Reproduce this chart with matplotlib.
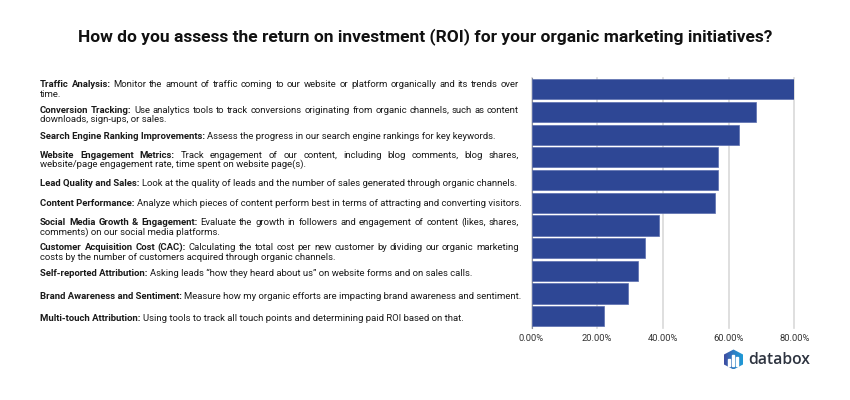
import matplotlib
matplotlib.use('Agg')
import matplotlib.pyplot as plt
from matplotlib.patches import Polygon, Rectangle
from matplotlib.colors import LinearSegmentedColormap
from matplotlib.font_manager import FontProperties
import numpy as np

title = 'How do you assess the return on investment (ROI) for your organic marketing initiatives?'

# bold lead, first line rest, second line (or None)
leads = ['Traffic Analysis:', 'Conversion Tracking:', 'Search Engine Ranking Improvements:',
         'Website Engagement Metrics:', 'Lead Quality and Sales:', 'Content Performance:',
         'Social Media Growth & Engagement:', 'Customer Acquisition Cost (CAC):',
         'Self-reported Attribution:', 'Brand Awareness and Sentiment:', 'Multi-touch Attribution:']
first_lines = ['Monitor the amount of traffic coming to our website or platform organically and its trends over',
               'Use analytics tools to track conversions originating from organic channels, such as content',
               'Assess the progress in our search engine rankings for key keywords.',
               'Track engagement of our content, including blog comments, blog shares,',
               'Look at the quality of leads and the number of sales generated through organic channels.',
               'Analyze which pieces of content perform best in terms of attracting and converting visitors.',
               'Evaluate the growth in followers and engagement of content (likes, shares,',
               'Calculating the total cost per new customer by dividing our organic marketing',
               'Asking leads \u201chow they heard about us\u201d on website forms and on sales calls.',
               'Measure how my organic efforts are impacting brand awareness and sentiment.',
               'Using tools to track all touch points and determining paid ROI based on that.']
second_lines = ['time.', 'downloads, sign-ups, or sales.', None,
                'website/page engagement rate, time spent on website page(s).', None, None,
                'comments) on our social media platforms.',
                'costs by the number of customers acquired through organic channels.',
                None, None, None]
values = [80.0, 68.3, 63.1, 56.7, 56.7, 55.8, 38.8, 34.6, 32.5, 29.4, 22.0]
x_ticks = [0, 20, 40, 60, 80]

W, H = 850, 400
FONT = 'Roboto'
LABEL_SIZE = 6.8
# baselines in whole pixels
line_y = [(87, 97), (113, 122), (139, None), (158, 167), (186, None), (206, None),
          (225, 235), (250, 260), (276, None), (299, None), (321, None)]
TEXT_L, TEXT_R = 40, 519

fig = plt.figure(figsize=(8.5, 4), dpi=100, facecolor='white')
ax = fig.add_axes([531.5 / W, 1 - 327.5 / H, 263 / W, 249.5 / H])
pos = np.arange(len(values))
ax.barh(pos, values, height=0.89, color='#2e4795', edgecolor='#5a6eae', linewidth=0.5, zorder=3)
ax.set_xlim(0, 80)
ax.set_ylim(len(values) - 0.5, -0.5)
ax.set_yticks([])
ax.set_xticks(x_ticks)
ax.set_xticklabels([f'{t:.2f}%' for t in x_ticks], fontsize=6.75, family=FONT, color='#333333')
ax.tick_params(axis='x', length=0, pad=5)
ax.grid(axis='x', color='#d9d9d9', linewidth=1.2, zorder=0, clip_on=False)
for s in ['top', 'right', 'bottom']:
    ax.spines[s].set_visible(False)
ax.spines['left'].set_color('#8a8f9c')
ax.spines['left'].set_linewidth(0.8)

fig.text(425 / W, 1 - 41 / H, title, ha='center', va='baseline', fontsize=12.5,
         fontweight='bold', family=FONT, color='#111111')

reg = FontProperties(family=FONT, size=LABEL_SIZE)
bold = FontProperties(family=FONT, size=LABEL_SIZE, weight='bold')
renderer = fig.canvas.get_renderer()


def put(s, fp, x, y):
    return fig.text(x / W, 1 - y / H, s, fontproperties=fp, color='#1a1a1a', ha='left', va='baseline')


def draw_justified(words, y):
    # word by word, so the line fills the whole column
    texts = [put(w, fp, 0, y) for w, fp in words]
    widths = [t.get_window_extent(renderer).width for t in texts]
    gap = (TEXT_R - TEXT_L - sum(widths)) / (len(words) - 1)
    x = TEXT_L
    for t, wd in zip(texts, widths):
        t.set_x(x / W)
        x += wd + gap


for lead, one, two, ys in zip(leads, first_lines, second_lines, line_y):
    if two is not None:
        draw_justified([(w, bold) for w in lead.split()] + [(w, reg) for w in one.split()], ys[0])
        put(two, reg, TEXT_L, ys[1])
    else:
        t = put(lead, bold, TEXT_L, ys[0])
        put(one, reg, TEXT_L + t.get_window_extent(renderer).width + 2.4, ys[0])

# logo
logo = fig.add_axes([0, 0, 1, 1], facecolor='none')
logo.set_xlim(0, W)
logo.set_ylim(H, 0)
logo.axis('off')
cx, cy = 733.5, 359.5
hexagon = Polygon([(cx, cy - 10), (cx + 9.5, cy - 5), (cx + 9.5, cy + 5), (cx, cy + 10),
                   (cx - 9.5, cy + 5), (cx - 9.5, cy - 5)], closed=True, facecolor='none',
                  edgecolor='none', joinstyle='round')
logo.add_patch(hexagon)
cmap = LinearSegmentedColormap.from_list('logo', ['#3f4ba0', '#2f7fc4', '#1f9ad6'])
grad = np.linspace(0, 1, 64).reshape(1, -1)
img = logo.imshow(grad, extent=(cx - 9.5, cx + 9.5, cy + 10, cy - 10), cmap=cmap, aspect='auto', zorder=2)
img.set_clip_path(hexagon)
logo.set_xlim(0, W)
logo.set_ylim(H, 0)
for bx, top in [(cx - 5, cy - 1), (cx - 1, cy - 5), (cx + 3, cy - 2.5)]:
    logo.add_patch(Rectangle((bx, top), 2, cy + 6 - top, color='white', zorder=3))
logo.text(748, 359.5, 'databox', fontsize=11.3, family='Open Sans', fontweight='semibold',
          color='#2e3440', ha='left', va='center')

fig.savefig('out.png', dpi=100)
